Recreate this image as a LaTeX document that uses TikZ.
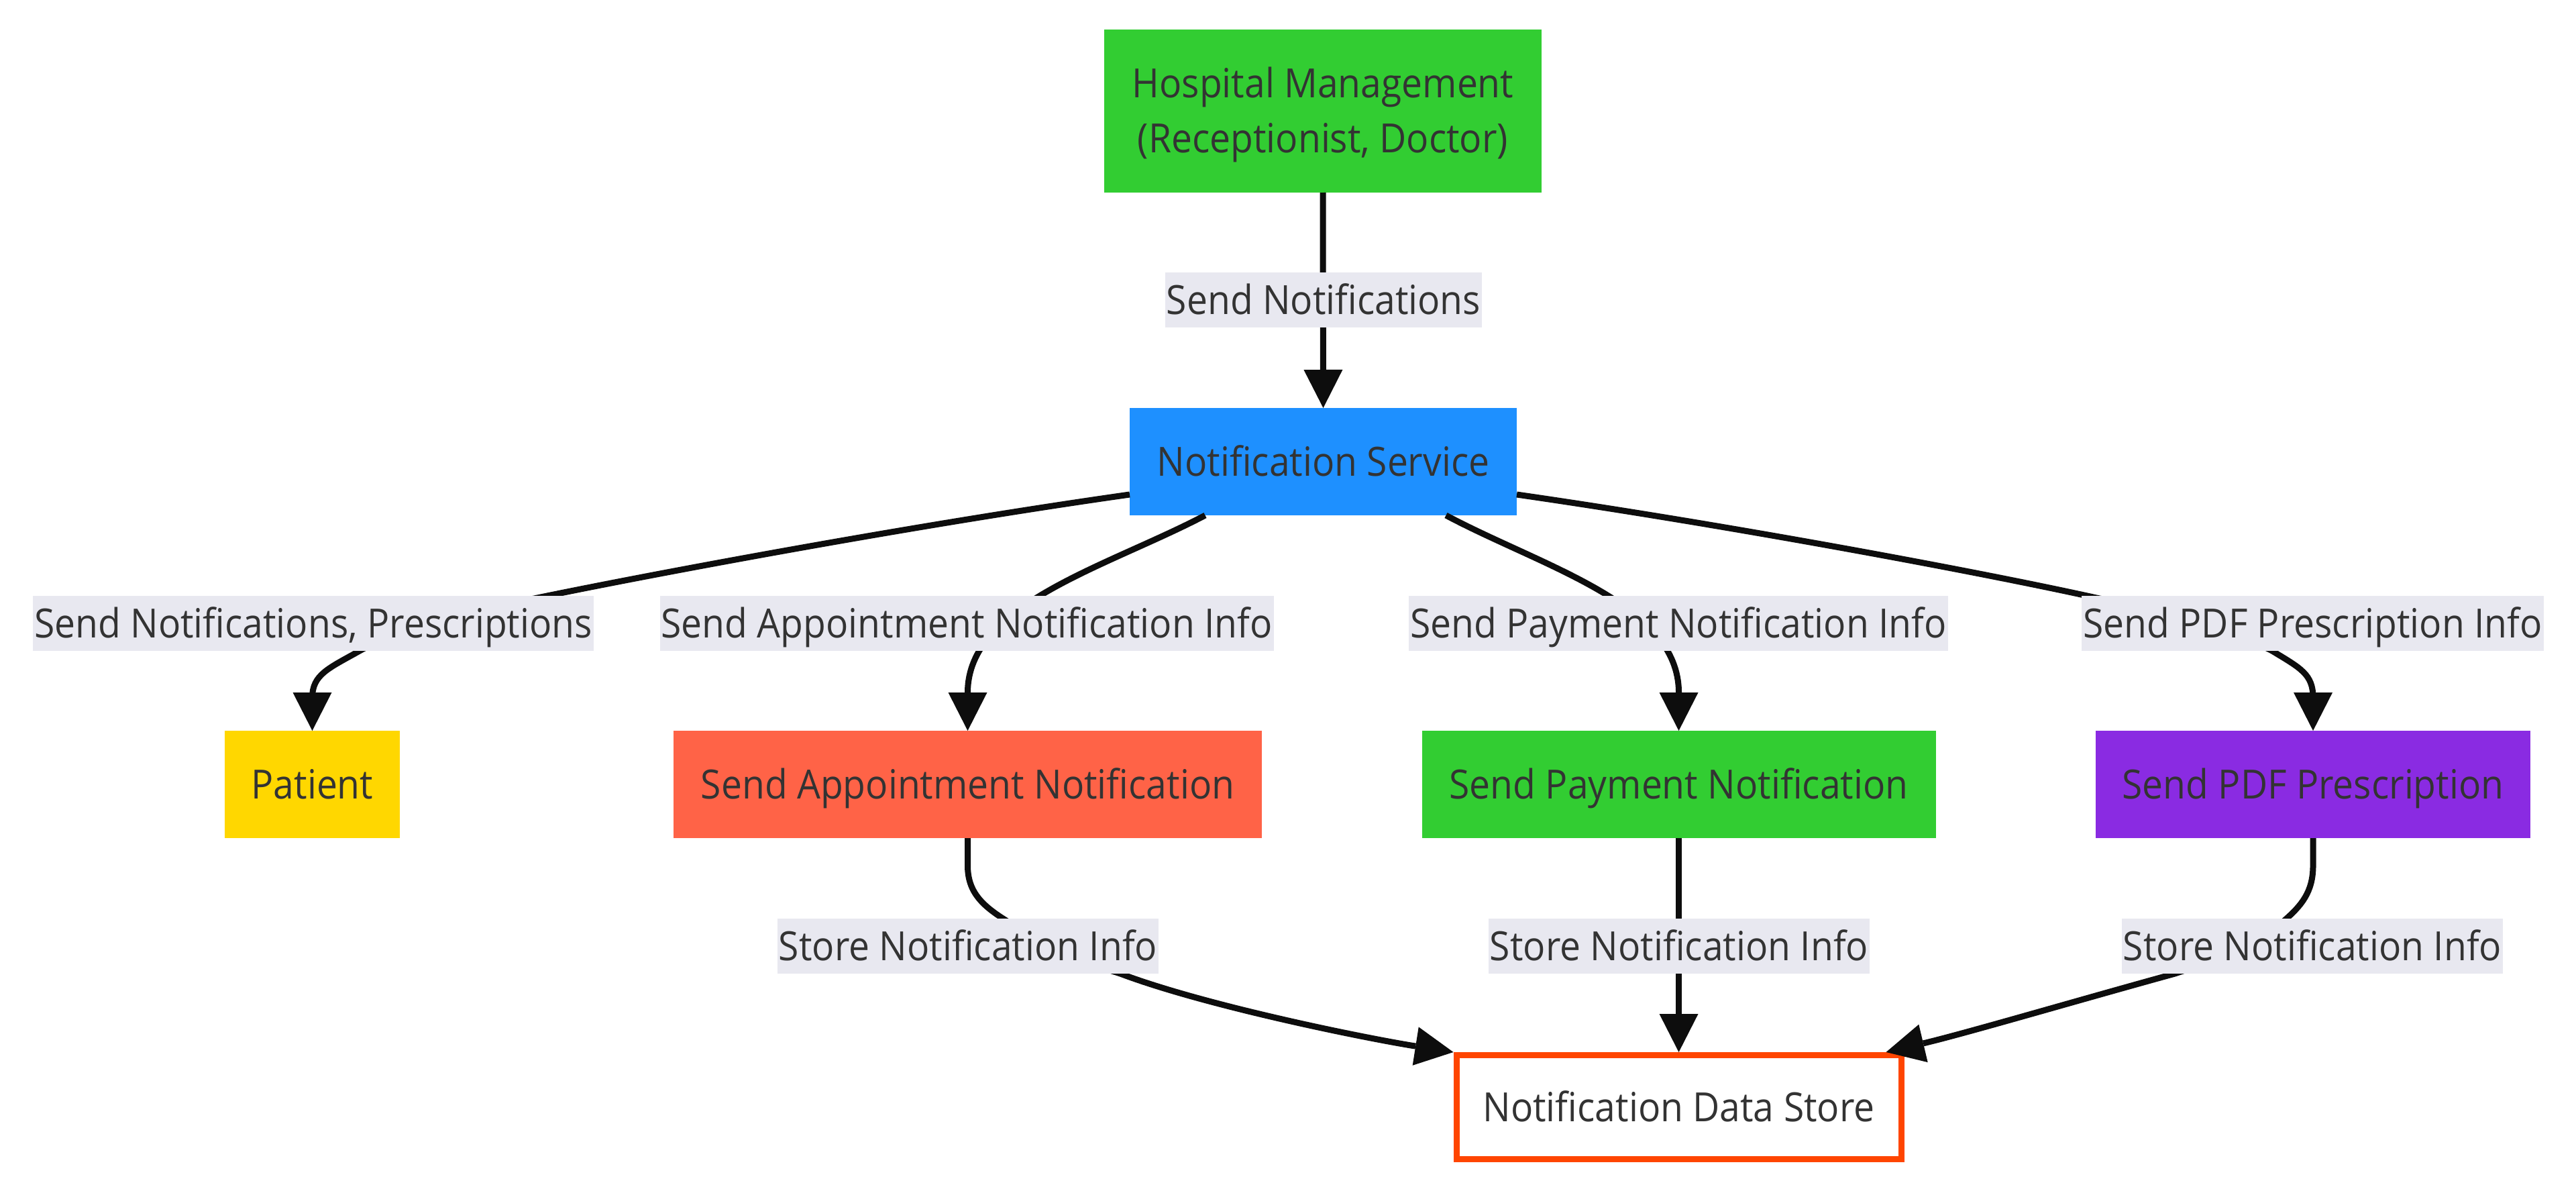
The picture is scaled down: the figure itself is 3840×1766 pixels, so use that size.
\documentclass[tikz,border=0pt]{standalone}
\usepackage{fontspec}
\setmainfont{Open Sans}[FakeStretch=0.92]
\usetikzlibrary{arrows.meta}
\definecolor{txt}{HTML}{333333}
\definecolor{edgec}{HTML}{0D0D0D}
\definecolor{lblbg}{HTML}{E8E8F0}
\definecolor{cgreen}{HTML}{32CD32}
\definecolor{cblue}{HTML}{1E90FF}
\definecolor{cgold}{HTML}{FFD700}
\definecolor{ctomato}{HTML}{FF6347}
\definecolor{cviolet}{HTML}{8A2BE2}
\definecolor{corange}{HTML}{FF4500}
\begin{document}
\begin{tikzpicture}[x=1pt,y=-1pt,
  box/.style={rectangle, inner sep=0pt, outer sep=0pt, text=txt, font=\fontsize{60}{82}\selectfont,
    minimum height=160pt, align=center, text height=42pt, text depth=0pt},
  lbl/.style={rectangle, fill=lblbg, inner xsep=2pt, inner ysep=0pt, minimum height=82pt,
    text=txt, font=\fontsize{60}{82}\selectfont, text height=42pt, text depth=0pt},
  conn/.style={draw=edgec, line width=9pt, -{Triangle[length=57pt,width=58pt,line width=0pt]}},
]
\useasboundingbox (0,0) rectangle (3840,1766);
\fill[white] (0,0) rectangle (3840,1766);

% nodes
\node[box, fill=cgreen, minimum width=652pt, minimum height=243pt, text height=124pt] (hm) at (1972,165.5) {Hospital Management\\(Receptionist, Doctor)};
\node[box, fill=cblue, minimum width=577pt] (ns) at (1972.5,688) {Notification Service};
\node[box, fill=cgold, minimum width=261pt] (pat) at (465.5,1169) {Patient};
\node[box, fill=ctomato, minimum width=877pt] (sa) at (1442.5,1169) {Send Appointment Notification};
\node[box, fill=cgreen, minimum width=766pt] (sp) at (2502.5,1169) {Send Payment Notification};
\node[box, fill=cviolet, minimum width=648pt] (pdf) at (3448,1169) {Send PDF Prescription};
\node[box, fill=white, draw=corange, line width=9pt, outer sep=4.5pt, minimum width=663pt, minimum height=155pt] (ds) at (2502.5,1650) {Notification Data Store};

% connectors
\draw[conn] (hm.south) -- (ns.north);
\draw[conn] ([yshift=-49pt]ns.west) .. controls (1380,780) and (1000,850) .. (801,891)
  .. controls (700,912) and (580,945) .. (536,970)
  .. controls (490,996) and (465.5,1005) .. (465.5,1040) -- (pat.north);
\draw[conn] ([xshift=-176pt]ns.south) .. controls (1650,845) and (1442.5,900) .. (1442.5,1032) -- (sa.north);
\draw[conn] ([xshift=183pt]ns.south) .. controls (2300,845) and (2502.5,900) .. (2502.5,1032) -- (sp.north);
\draw[conn] ([yshift=-49pt]ns.east) .. controls (2560,780) and (2940,850) .. (3125,891)
  .. controls (3225,912) and (3340,945) .. (3387,970)
  .. controls (3430,996) and (3448,1005) .. (3448,1040) -- (pdf.north);
\draw[conn] (sa.south) -- (1442.5,1290) .. controls (1442.5,1330) and (1465,1350) .. (1500,1372)
  .. controls (1550,1405) and (1610,1432) .. (1670,1451)
  .. controls (1800,1500) and (2040,1548) .. (ds.north west);
\draw[conn] (sp.south) -- (ds.north);
\draw[conn] (pdf.south) -- (3448,1290) .. controls (3448,1330) and (3430,1350) .. (3405,1372)
  .. controls (3360,1410) and (3300,1432) .. (3242,1451)
  .. controls (3100,1490) and (2930,1540) .. ([xshift=-27pt]ds.north east);

% edge labels
\node[lbl] (l1) at (1973,447) {Send Notifications};
\node[lbl] (l2) at (467,929) {Send Notifications, Prescriptions};
\node[lbl] (l3) at (1441,929) {Send Appointment Notification Info};
\node[lbl] (l4) at (2502,929) {Send Payment Notification Info};
\node[lbl] (l5) at (3447.5,929) {Send PDF Prescription Info};
\node[lbl] (l6) at (1443,1410) {Store Notification Info};
\node[lbl] (l7) at (2503,1410) {Store Notification Info};
\node[lbl] (l8) at (3447,1410) {Store Notification Info};
\end{tikzpicture}
\end{document}
